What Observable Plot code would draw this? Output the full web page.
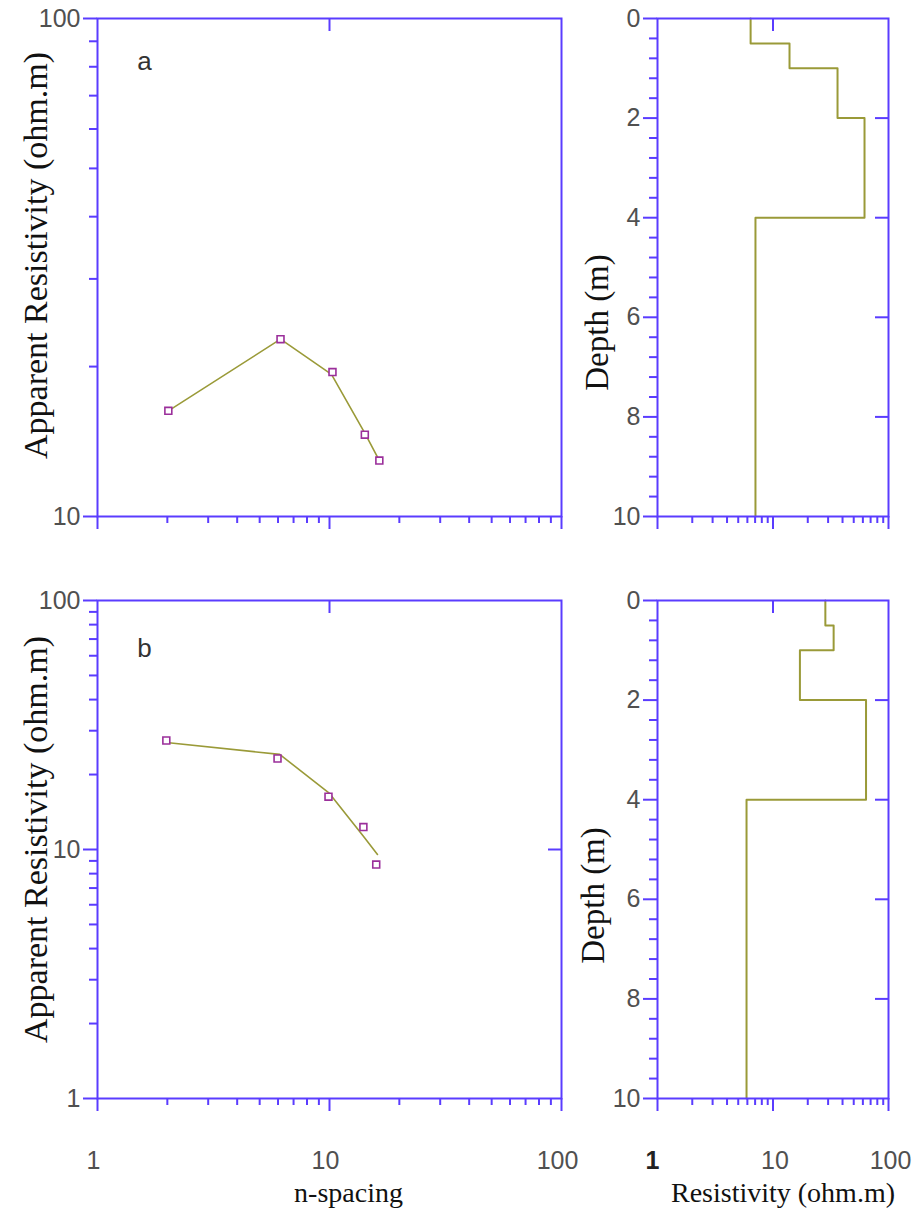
<!DOCTYPE html>
<html>
<head>
<meta charset="utf-8">
<script src="https://cdn.jsdelivr.net/npm/d3@7"></script>
<script src="https://cdn.jsdelivr.net/npm/@observablehq/plot@0.6"></script>
<style>
  html, body { margin: 0; padding: 0; background: #ffffff; }
  #chart { position: relative; width: 921px; height: 1211px; background: #ffffff; overflow: hidden; }
  #chart > svg { position: absolute; }
</style>
</head>
<body>
<div id="chart"></div>
<script>
// ---------------- data ----------------
// panel a : apparent resistivity pseudo-sounding
const aSpacingObs = [2.02, 6.15, 10.3, 14.2, 16.4];
const aRhoObs     = [16.3, 22.7, 19.5, 14.6, 12.95];
const aSpacingCalc = [2.02, 6.15, 10.2, 14.2, 16.4];
const aRhoCalc     = [16.3, 22.7, 19.3, 14.7, 12.95];
// panel b
const bSpacingObs = [1.98, 5.97, 9.9, 14.0, 15.9];
const bRhoObs     = [27.4, 23.2, 16.3, 12.3, 8.7];
const bSpacingCalc = [1.98, 6.1, 10.0, 14.0, 16.1];
const bRhoCalc     = [26.9, 24.1, 16.8, 11.3, 9.55];
// layered models (depth in m, resistivity in ohm.m)
const layerTop    = [0, 0.5, 1, 2, 4];
const layerBottom = [0.5, 1, 2, 4, 10];
const aLayerRho   = [6.4, 13.9, 36.2, 62, 7.05];
const bLayerRho   = [28.4, 33.5, 17.1, 63.9, 5.9];

// tick values / labels
const logMajor = [1, 10, 100];
const logMinor = [2, 3, 4, 5, 6, 7, 8, 9, 20, 30, 40, 50, 60, 70, 80, 90];
const rhoMajorA = [10, 100];
const rhoMinorA = [20, 30, 40, 50, 60, 70, 80, 90];
const rhoMajorB = [1, 10, 100];
const rhoInnerB = [10];
const depthMajor = [0, 2, 4, 6, 8, 10];
const depthInner = [2, 4, 6, 8];
const depthMinor = [0.4, 0.8, 1.2, 1.6, 2.4, 2.8, 3.2, 3.6, 4.4, 4.8, 5.2, 5.6, 6.4, 6.8, 7.2, 7.6, 8.4, 8.8, 9.2, 9.6];
const topInner = [10];

const yTitle = "Apparent Resistivity (ohm.m)";
const depthTitle = "Depth (m)";
const xTitleLeft = "n-spacing";
const xTitleRight = "Resistivity (ohm.m)";

// ---------------- styles ----------------
const BLUE = "#5a3cff";
const OLIVE = "#9a9a38";
const PURPLE = "#9b2f9b";
const LABEL = "#505050";
const SANS = "Liberation Sans, Arial, sans-serif";
const SERIF = "Liberation Serif, Times New Roman, serif";

const obsA = aSpacingObs.map((x, i) => ({x, y: aRhoObs[i]}));
const calcA = aSpacingCalc.map((x, i) => ({x, y: aRhoCalc[i]}));
const obsB = bSpacingObs.map((x, i) => ({x, y: bRhoObs[i]}));
const calcB = bSpacingCalc.map((x, i) => ({x, y: bRhoCalc[i]}));
function stepPoints(rho) {
  const pts = [];
  rho.forEach((r, i) => { pts.push({x: r, y: layerTop[i]}); pts.push({x: r, y: layerBottom[i]}); });
  return pts;
}

function ticksCommon(fw, fh, opt) {
  const m = [];
  // bottom x ticks (outward)
  m.push(Plot.tickX(logMajor, {x: d => d, stroke: BLUE, strokeWidth: 2, insetTop: fh, insetBottom: -13}));
  m.push(Plot.tickX(logMinor, {x: d => d, stroke: BLUE, strokeWidth: 2, insetTop: fh, insetBottom: -7}));
  // top inward tick
  m.push(Plot.tickX(topInner, {x: d => d, stroke: BLUE, strokeWidth: 2, insetTop: 0, insetBottom: fh - 13}));
  // left y ticks (outward)
  m.push(Plot.tickY(opt.yMajor, {y: d => d, stroke: BLUE, strokeWidth: 2, insetLeft: -14, insetRight: fw}));
  m.push(Plot.tickY(opt.yMinor, {y: d => d, stroke: BLUE, strokeWidth: 2, insetLeft: -8, insetRight: fw}));
  // right inward
  if (opt.yInner.length) m.push(Plot.tickY(opt.yInner, {y: d => d, stroke: BLUE, strokeWidth: 2, insetLeft: fw - 13, insetRight: 0}));
  return m;
}

function yLabels(values) {
  return Plot.text(values, {y: d => d, text: d => String(d), frameAnchor: "left", dx: -17, textAnchor: "end", lineAnchor: "middle", fontSize: 25, fill: LABEL});
}

const chart = document.getElementById("chart");
function place(svg, left, top) { svg.style.left = left + "px"; svg.style.top = top + "px"; chart.appendChild(svg); }

// ---------- panel a (top-left) ----------
{
  const W = 600, H = 590, ml = 97, mr = 39, mt = 18, mb = 74;
  const fw = W - ml - mr, fh = H - mt - mb;
  const p = Plot.plot({
    width: W, height: H, marginLeft: ml, marginRight: mr, marginTop: mt, marginBottom: mb,
    style: {background: "transparent", fontFamily: SANS, overflow: "visible"},
    x: {type: "log", domain: [1, 100], axis: null},
    y: {type: "log", domain: [10, 100], axis: null},
    marks: [
      Plot.line(calcA, {x: "x", y: "y", stroke: OLIVE, strokeWidth: 1.6}),
      Plot.dot(obsA, {x: "x", y: "y", symbol: "square", r: 3.9, stroke: PURPLE, fill: "white", strokeWidth: 1.6}),
      Plot.frame({stroke: BLUE, strokeWidth: 2}),
      ...ticksCommon(fw, fh, {yMajor: rhoMajorA, yMinor: rhoMinorA, yInner: []}),
      yLabels(rhoMajorA),
      Plot.text(["a"], {frameAnchor: "top-left", dx: 47, dy: 43, textAnchor: "middle", lineAnchor: "middle", fontSize: 26, fill: "#333"}),
      Plot.text([yTitle], {frameAnchor: "left", rotate: -90, dx: -61, dy: -12, textAnchor: "middle", lineAnchor: "middle", fontSize: 34, fontFamily: SERIF, fill: "#111"})
    ]
  });
  place(p, 0, 0);
}

// ---------- model a (top-right) ----------
{
  const W = 341, H = 590, ml = 77, mr = 33, mt = 18, mb = 74;
  const fw = W - ml - mr, fh = H - mt - mb;
  const p = Plot.plot({
    width: W, height: H, marginLeft: ml, marginRight: mr, marginTop: mt, marginBottom: mb,
    style: {background: "transparent", fontFamily: SANS, overflow: "visible"},
    x: {type: "log", domain: [1, 100], axis: null},
    y: {domain: [0, 10], reverse: true, axis: null},
    marks: [
      Plot.line(stepPoints(aLayerRho), {x: "x", y: "y", stroke: OLIVE, strokeWidth: 2}),
      Plot.frame({stroke: BLUE, strokeWidth: 2}),
      ...ticksCommon(fw, fh, {yMajor: depthMajor, yMinor: depthMinor, yInner: depthInner}),
      yLabels(depthMajor),
      Plot.text([depthTitle], {frameAnchor: "left", rotate: -90, dx: -60, dy: 55, textAnchor: "middle", lineAnchor: "middle", fontSize: 33, fontFamily: SERIF, fill: "#111"})
    ]
  });
  place(p, 580, 0);
}

// ---------- panel b (bottom-left) ----------
{
  const W = 600, H = 631, ml = 97, mr = 39, mt = 20, mb = 113;
  const fw = W - ml - mr, fh = H - mt - mb;
  const p = Plot.plot({
    width: W, height: H, marginLeft: ml, marginRight: mr, marginTop: mt, marginBottom: mb,
    style: {background: "transparent", fontFamily: SANS, overflow: "visible"},
    x: {type: "log", domain: [1, 100], axis: null},
    y: {type: "log", domain: [1, 100], axis: null},
    marks: [
      Plot.line(calcB, {x: "x", y: "y", stroke: OLIVE, strokeWidth: 1.6}),
      Plot.dot(obsB, {x: "x", y: "y", symbol: "square", r: 3.9, stroke: PURPLE, fill: "white", strokeWidth: 1.6}),
      Plot.frame({stroke: BLUE, strokeWidth: 2}),
      ...ticksCommon(fw, fh, {yMajor: rhoMajorB, yMinor: logMinor, yInner: rhoInnerB}),
      yLabels(rhoMajorB),
      Plot.text(logMajor, {x: d => d, text: d => String(d), frameAnchor: "bottom", dy: 62, dx: -4, textAnchor: "middle", lineAnchor: "middle", fontSize: 25, fill: LABEL}),
      Plot.text(["b"], {frameAnchor: "top-left", dx: 47, dy: 48, textAnchor: "middle", lineAnchor: "middle", fontSize: 26, fill: "#333"}),
      Plot.text([yTitle], {frameAnchor: "left", rotate: -90, dx: -61, dy: -10, textAnchor: "middle", lineAnchor: "middle", fontSize: 34, fontFamily: SERIF, fill: "#111"}),
      Plot.text([xTitleLeft], {frameAnchor: "bottom", dx: 19, dy: 95, textAnchor: "middle", lineAnchor: "middle", fontSize: 28, fontFamily: SERIF, fill: "#111"})
    ]
  });
  place(p, 0, 580);
}

// ---------- model b (bottom-right) ----------
{
  const W = 341, H = 631, ml = 77, mr = 33, mt = 20, mb = 113;
  const fw = W - ml - mr, fh = H - mt - mb;
  const p = Plot.plot({
    width: W, height: H, marginLeft: ml, marginRight: mr, marginTop: mt, marginBottom: mb,
    style: {background: "transparent", fontFamily: SANS, overflow: "visible"},
    x: {type: "log", domain: [1, 100], axis: null},
    y: {domain: [0, 10], reverse: true, axis: null},
    marks: [
      Plot.line(stepPoints(bLayerRho), {x: "x", y: "y", stroke: OLIVE, strokeWidth: 2}),
      Plot.frame({stroke: BLUE, strokeWidth: 2}),
      ...ticksCommon(fw, fh, {yMajor: depthMajor, yMinor: depthMinor, yInner: depthInner}),
      yLabels(depthMajor),
      Plot.text(logMajor.filter(d => d !== 1), {x: d => d, text: d => String(d), frameAnchor: "bottom", dy: 62, dx: 2, textAnchor: "middle", lineAnchor: "middle", fontSize: 25, fill: LABEL}),
      Plot.text(logMajor.filter(d => d === 1), {x: d => d, text: d => String(d), frameAnchor: "bottom", dy: 62, dx: -5, textAnchor: "middle", lineAnchor: "middle", fontSize: 25, fontWeight: "bold", fill: "#222"}),
      Plot.text([depthTitle], {frameAnchor: "left", rotate: -90, dx: -64, dy: 46, textAnchor: "middle", lineAnchor: "middle", fontSize: 33, fontFamily: SERIF, fill: "#111"}),
      Plot.text([xTitleRight], {frameAnchor: "bottom", dx: 10, dy: 95, textAnchor: "middle", lineAnchor: "middle", fontSize: 28, fontFamily: SERIF, fill: "#111"})
    ]
  });
  place(p, 580, 580);
}
</script>
</body>
</html>
